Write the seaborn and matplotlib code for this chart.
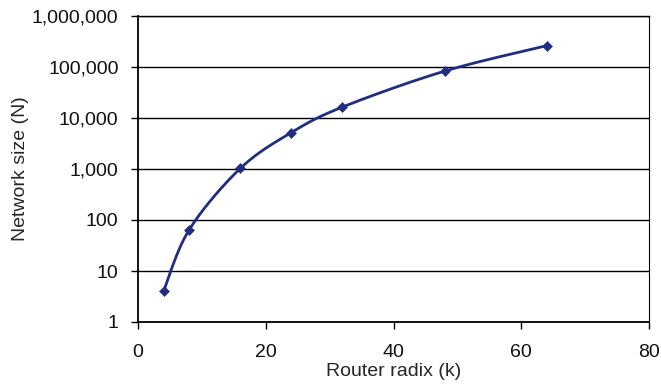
import numpy as np
import pandas as pd
import matplotlib
matplotlib.use("Agg")
import matplotlib.pyplot as plt
import seaborn as sns
from matplotlib.ticker import FuncFormatter, FixedLocator

radix = [4, 8, 16, 24, 32, 48, 64]
network_size = [4, 64, 1024, 5184, 16384, 82944, 262144]
x_ticks = [0, 20, 40, 60, 80]
y_ticks = [1, 10, 100, 1000, 10000, 100000, 1000000]

sns.set_theme(style="white")
plt.rcParams['font.family'] = ['Liberation Sans', 'DejaVu Sans']

fig = plt.figure(figsize=(6.61, 3.89), dpi=100)
ax = fig.add_axes([138/661, 1-322/389, (649-138)/661, (322-16)/389])

color = "#212d80"

# Smoothed line (Excel-style Bezier smoothing in screen space)
px = np.array(radix, float) / 80.0 * 511
py = np.log10(np.array(network_size, float)) / 6.0 * 306
P = np.column_stack([px, py])
n = len(P)
seg = []
t = np.linspace(0, 1, 40)
for i in range(n - 1):
    p0 = P[i - 1] if i > 0 else P[i]
    p1 = P[i]
    p2 = P[i + 1]
    p3 = P[i + 2] if i + 2 < n else P[i + 1]
    c1 = p1 + (p2 - p0) / 6.0
    c2 = p2 - (p3 - p1) / 6.0
    b = ((1 - t)[:, None] ** 3 * p1 + 3 * ((1 - t) ** 2 * t)[:, None] * c1
         + 3 * ((1 - t) * t ** 2)[:, None] * c2 + (t ** 3)[:, None] * p2)
    seg.append(b if i == 0 else b[1:])
curve = np.vstack(seg)
curve_df = pd.DataFrame({"k": curve[:, 0] / 511 * 80,
                         "N": 10 ** (curve[:, 1] / 306 * 6)})

ax.set_yscale("log")
sns.lineplot(data=curve_df, x="k", y="N", sort=False, color=color, lw=2.0,
             ax=ax, estimator=None)
pts = pd.DataFrame({"k": radix, "N": network_size})
sns.scatterplot(data=pts, x="k", y="N", marker="D", s=26, color=color,
                edgecolor=color, ax=ax, zorder=3)

ax.set_xlim(0, 80)
ax.set_ylim(1, 1000000)
ax.xaxis.set_major_locator(FixedLocator(x_ticks))
ax.yaxis.set_major_locator(FixedLocator(y_ticks))
ax.yaxis.set_minor_locator(FixedLocator([]))
ax.yaxis.set_major_formatter(FuncFormatter(lambda v, p: f"{int(round(v)):,}"))

for yv in y_ticks[1:]:
    ax.axhline(yv, color="black", lw=1.0, zorder=0)

for s in ["left", "bottom", "right", "top"]:
    ax.spines[s].set_color("black")
ax.spines["left"].set_linewidth(1.3)
ax.spines["bottom"].set_linewidth(1.3)
ax.spines["right"].set_linewidth(0.8)
ax.spines["top"].set_linewidth(1.0)

ax.tick_params(axis="both", which="major", direction="out", length=5,
               width=1.0, color="black", labelsize=14, labelcolor="#111111",
               left=True, bottom=True)
ax.tick_params(axis="x", pad=11)
ax.tick_params(axis="y", pad=9)

ax.set_xlabel("Router radix (k)", fontsize=14, labelpad=1)
ax.set_ylabel("Network size (N)", fontsize=14, labelpad=2)

fig.savefig("out.png", dpi=100)
